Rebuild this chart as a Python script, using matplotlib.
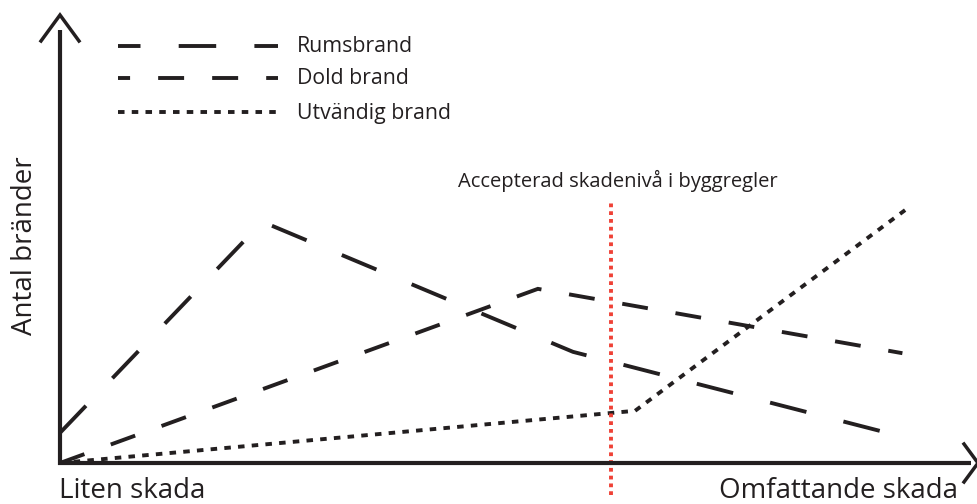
import matplotlib
matplotlib.use("Agg")
import matplotlib.pyplot as plt

plt.rcParams['font.family'] = ['Open Sans', 'DejaVu Sans']
plt.rcParams['lines.scale_dashes'] = False

# Data (schematic values: x = extent of damage, y = number of fires)
series_names = ["Rumsbrand", "Dold brand", "Utvändig brand"]
rums_x = [0, 22.5, 57, 93.3]
rums_y = [6.7, 53.6, 24.7, 6.0]
dold_x = [0, 53.1, 93.6]
dold_y = [0, 38.7, 24.4]
utv_x = [0, 63.9, 93.9]
utv_y = [0, 11.6, 56.2]
accept_x = 61.2
accept_y = [-7.1, 58.2]
accept_label = "Accepterad skadenivå i byggregler"
x_low_label = "Liten skada"
x_high_label = "Omfattande skada"
y_label = "Antal bränder"

W, H = 977, 504
fig = plt.figure(figsize=(W / 100, H / 100), dpi=100)
ax = fig.add_axes([0, 0, 1, 1])
# pixel mapping: origin at (60, 463), 9 px per x unit, 4.5 px per y unit
ax.set_xlim(-60 / 9, (W - 60) / 9)
ax.set_ylim(-(H - 463) / 4.5, 463 / 4.5)
ax.axis('off')

ink = '#231f20'
lw = 2.8
styles = {
    "Rumsbrand": (0, (27, 27.5)),
    "Dold brand": (0, (18.7, 20.2)),
    "Utvändig brand": (0, (4.7, 5.2)),
}
leg_styles = {
    "Rumsbrand": (10.8, (27, 27.5)),
    "Dold brand": (10.0, (18.7, 20.2)),
    "Utvändig brand": (0, (4.7, 5.2)),
}

ax.plot(rums_x, rums_y, color=ink, lw=lw, linestyle=styles["Rumsbrand"],
        dash_capstyle='butt', dash_joinstyle='miter')
ax.plot(dold_x, dold_y, color=ink, lw=lw, linestyle=styles["Dold brand"],
        dash_capstyle='butt', dash_joinstyle='miter')
ax.plot(utv_x, utv_y, color=ink, lw=lw, linestyle=styles["Utvändig brand"],
        dash_capstyle='butt', dash_joinstyle='miter')

# acceptance line
ax.plot([accept_x, accept_x], accept_y, color='#ef4136', lw=2.8,
        linestyle=(0, (2.7, 2.9)), dash_capstyle='butt')
ax.text(accept_x + 0.8, (463 - 181) / 4.5, accept_label, fontsize=14.5,
        color=ink, ha='center', va='center')

# axes (in figure pixel coordinates)
def px(x, y):
    return x / W, 1 - y / H

tr = fig.transFigure
axis_kw = dict(color=ink, lw=3.0, transform=tr, solid_capstyle='butt')
ax.plot(*zip(px(60, 465), px(60, 30)), **axis_kw)
ax.plot(*zip(px(58, 463), px(971, 463)), **axis_kw)
ax.plot(*zip(px(41, 41), px(60, 15), px(79, 41)), color=ink, lw=2.5,
        transform=tr, solid_joinstyle='miter')
ax.plot(*zip(px(964, 444), px(978, 463), px(964, 482)), color=ink, lw=2.5,
        transform=tr, solid_joinstyle='miter')

# axis labels
ax.text(59 / W, 1 - 491 / H, x_low_label, transform=tr, fontsize=20,
        color=ink, ha='left', va='center')
ax.text(958 / W, 1 - 491 / H, x_high_label, transform=tr, fontsize=20,
        color=ink, ha='right', va='center')
ax.text(25 / W, 1 - 246 / H, y_label, transform=tr, fontsize=20,
        color=ink, ha='center', va='center', rotation=90)

# legend
leg_y = [46, 78, 112]
for name, yy in zip(series_names, leg_y):
    ax.plot([118 / W, 278 / W], [1 - yy / H] * 2, transform=tr, color=ink,
            lw=lw, linestyle=leg_styles[name], dash_capstyle='butt')
    ax.text(297 / W, 1 - (yy + 1) / H, name, transform=tr, fontsize=15.3,
            color=ink, ha='left', va='center')

fig.savefig('out.png', dpi=100)
